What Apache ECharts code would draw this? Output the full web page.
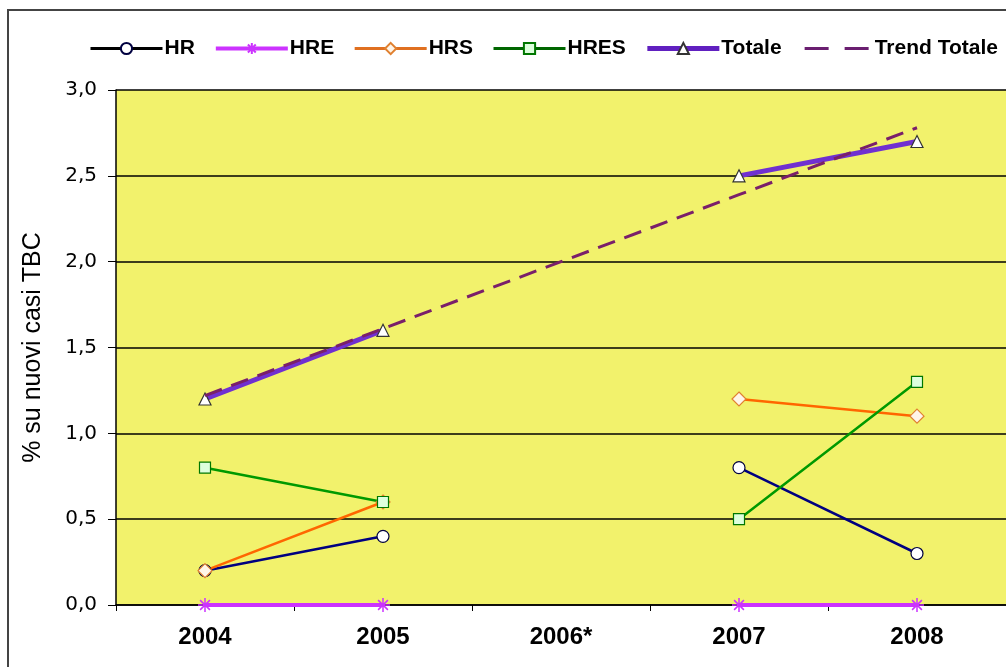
<!DOCTYPE html>
<html><head><meta charset="utf-8">
<script src="https://cdn.jsdelivr.net/npm/echarts@6/dist/echarts.min.js"></script>
<style>html,body{margin:0;padding:0;background:#fff}#c{width:1006px;height:667px}</style>
</head><body><div id="c"></div>
<script>
const categories = ['2004', '2005', '2006*', '2007', '2008'];
const HR = [0.2, 0.4, null, 0.8, 0.3];
const HRE = [0, 0, null, 0, 0];
const HRS = [0.2, 0.6, null, 1.2, 1.1];
const HRES = [0.8, 0.6, null, 0.5, 1.3];
const Totale = [1.2, 1.6, null, 2.5, 2.7];
const TrendTotale = [1.22, 1.61, 2.0, 2.39, 2.78];
const yTicks = [0, 0.5, 1, 1.5, 2, 2.5, 3];

const chart = echarts.init(document.getElementById('c'), null, {renderer: 'canvas'});
const asterisk = 'path://M0,5L10,5M5,0L5,10M1.5,1.5L8.5,8.5M8.5,1.5L1.5,8.5';
const dashIcon = 'path://M0,0M72,14M4,5.5H28V8.5H4ZM44,5.5H68V8.5H44Z';
const lib = 'Liberation Sans, Arial, sans-serif';
const dej = 'DejaVu Sans, sans-serif';
chart.setOption({
  animation: false,
  backgroundColor: '#fff',
  graphic: [{type: 'rect', shape: {x: 8, y: 10, width: 1100, height: 700}, style: {fill: 'none', stroke: '#444', lineWidth: 2}, silent: true, z: 100}],
  legend: {
    left: 84, top: 33, itemWidth: 72, itemHeight: 14, itemGap: 19,
    textStyle: {fontFamily: lib, fontWeight: 'bold', fontSize: 21, color: '#000', padding: [0, 0, 0, -3]},
    data: [
      {name: 'HR', lineStyle: {width: 3, color: '#000'}},
      {name: 'HRE', lineStyle: {width: 4}},
      {name: 'HRS', lineStyle: {width: 3, color: '#E07020'}},
      {name: 'HRES', lineStyle: {width: 3, color: '#006600'}},
      {name: 'Totale', lineStyle: {width: 5, color: '#6020C0'}},
      {name: 'Trend Totale', icon: dashIcon, itemStyle: {color: '#6A1E70'}}
    ]
  },
  grid: {left: 116, right: 0, top: 90, bottom: 62, show: true, backgroundColor: '#F2F26C', borderWidth: 0},
  xAxis: {
    type: 'category', data: categories, boundaryGap: true,
    axisLine: {lineStyle: {color: '#000', width: 1.5}},
    axisTick: {show: true, length: 6, lineStyle: {color: '#000'}},
    axisLabel: {fontFamily: lib, fontWeight: 'bold', fontSize: 24, color: '#000', margin: 20}
  },
  yAxis: {
    type: 'value', min: 0, max: 3, interval: 0.5,
    name: '% su nuovi casi TBC', nameLocation: 'middle', nameGap: 70, nameRotate: 90,
    nameTextStyle: {fontFamily: lib, fontSize: 25, color: '#000'},
    axisLine: {show: true, lineStyle: {color: '#000', width: 1.5}},
    axisTick: {show: true, length: 8, inside: false, lineStyle: {color: '#000'}},
    axisLabel: {fontFamily: dej, fontSize: 20, color: '#000', margin: 19,
      formatter: v => yTicks.includes(v) ? v.toFixed(1).replace('.', ',') : ''},
    splitLine: {show: true, lineStyle: {color: '#000', width: 1.5}}
  },
  series: [
    {name: 'HR', type: 'line', data: HR, symbol: 'circle', symbolSize: 12,
      lineStyle: {color: '#000080', width: 2.5}, itemStyle: {color: '#fff', borderColor: '#000040', borderWidth: 1.2}},
    {name: 'HRE', type: 'line', data: HRE, symbol: asterisk, symbolSize: 14,
      lineStyle: {color: '#CC33FF', width: 4}, itemStyle: {color: '#CC33FF', borderColor: '#CC33FF', borderWidth: 1.5}},
    {name: 'HRS', type: 'line', data: HRS, symbol: 'diamond', symbolSize: 14,
      lineStyle: {color: '#FF6600', width: 2.5}, itemStyle: {color: '#FFF5E8', borderColor: '#E08030', borderWidth: 1.2}},
    {name: 'HRES', type: 'line', data: HRES, symbol: 'rect', symbolSize: 11,
      lineStyle: {color: '#009900', width: 2.5}, itemStyle: {color: '#DDFFDD', borderColor: '#007700', borderWidth: 1.2}},
    {name: 'Totale', type: 'line', data: Totale, symbol: 'triangle', symbolSize: 12,
      lineStyle: {color: '#7030D0', width: 5}, itemStyle: {color: '#fff', borderColor: '#333', borderWidth: 1.2}, z: 3},
    {name: 'Trend Totale', type: 'line', data: TrendTotale, symbol: 'none',
      lineStyle: {color: '#7A1F6A', width: 3, type: [18, 10]}, itemStyle: {color: '#7A1F6A'}, z: 4}
  ]
});
</script></body></html>
